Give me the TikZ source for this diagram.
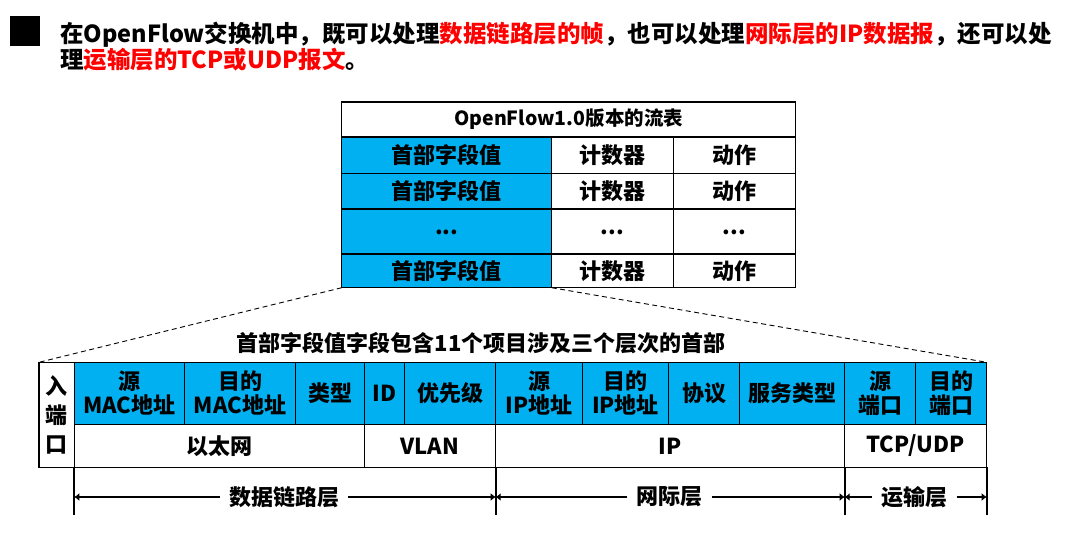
\documentclass[tikz,border=0pt]{standalone}
\usepackage{fontspec}
\setmainfont{Noto Sans CJK SC}
\usetikzlibrary{arrows.meta}
\definecolor{ofblue}{HTML}{00B0F0}
\definecolor{ofred}{HTML}{FF0000}
\newcommand\leadfont{\bfseries\fontsize{23.5}{24.5}\selectfont}
\newcommand\tabfont{\bfseries\fontsize{22}{24}\selectfont}
% a rectangular table cell spanning (x1,y1)-(x2,y2)
\newcommand\mkcell[7]{%
  \node[cell,#6,minimum width={(#4)-(#2)},minimum height={(#5)-(#3)}]
    (#1) at ({((#2)+(#4))/2},{((#3)+(#5))/2}) {#7};}
\tikzset{
  cell/.style={draw=black, line width=1.1pt, inner sep=0pt, outer sep=0pt,
    align=center, font=\tabfont},
  hdr/.style={fill=ofblue},
  plain/.style={fill=white},
  zoomline/.style={line width=0.9pt, dash pattern=on 5pt off 3.5pt},
  vline/.style={line width=2pt},
  span/.style={line width=2.8pt, -{Latex[length=5pt,width=8pt]}},
  layer/.style={font=\tabfont, inner xsep=9pt, inner ysep=0pt},
}
\begin{document}
\begin{tikzpicture}[x=1pt,y=-1pt]
\useasboundingbox[fill=white] (0,0) rectangle (1070,536);

% bullet and lead sentence
\node[fill=black, minimum size=30pt, inner sep=0pt] (bullet) at (25,31) {};
\node[anchor=north west, inner sep=0pt, align=left, font=\leadfont] (lead) at (60,21.5)
  {在OpenFlow交换机中，既可以处理\textcolor{ofred}{数据链路层的帧}，也可以处理\textcolor{ofred}{网际层的IP数据报}，还可以处\\
   理\textcolor{ofred}{运输层的TCP或UDP报文}。};

% flow table of OpenFlow 1.0
\mkcell{ftitle}{341.7}{102}{795.7}{137}{plain,font=\bfseries\fontsize{19.5}{22}\selectfont}{OpenFlow1.0版本的流表}
\mkcell{h1}{341.7}{137}{551.7}{173.3}{hdr}{首部字段值}
\mkcell{c1}{551.7}{137}{673.3}{173.3}{plain}{计数器}
\mkcell{a1}{673.3}{137}{795.7}{173.3}{plain}{动作}
\mkcell{h2}{341.7}{173.3}{551.7}{209}{hdr}{首部字段值}
\mkcell{c2}{551.7}{173.3}{673.3}{209}{plain}{计数器}
\mkcell{a2}{673.3}{173.3}{795.7}{209}{plain}{动作}
\mkcell{h3}{341.7}{209}{551.7}{254}{hdr}{\raisebox{-6pt}{...}}
\mkcell{c3}{551.7}{209}{673.3}{254}{plain}{\raisebox{-6pt}{...}}
\mkcell{a3}{673.3}{209}{795.7}{254}{plain}{\raisebox{-6pt}{...}}
\mkcell{h4}{341.7}{254}{551.7}{287.7}{hdr}{首部字段值}
\mkcell{c4}{551.7}{254}{673.3}{287.7}{plain}{计数器}
\mkcell{a4}{673.3}{254}{795.7}{287.7}{plain}{动作}

% header fields
\node[font=\tabfont] (ftitle2) at (481,343) {首部字段值字段包含11个项目涉及三个层次的首部};
\mkcell{port}{39}{362.3}{74.3}{467.3}{plain,font=\bfseries\fontsize{22}{29}\selectfont}{入\\端\\口}
\mkcell{smac}{74.3}{362.3}{184.3}{424.3}{hdr}{源\\MAC地址}
\mkcell{dmac}{184.3}{362.3}{295.7}{424.3}{hdr}{目的\\MAC地址}
\mkcell{etype}{295.7}{362.3}{364.3}{424.3}{hdr}{类型}
\mkcell{vid}{364.3}{362.3}{404.3}{424.3}{hdr}{ID}
\mkcell{vpri}{404.3}{362.3}{495.7}{424.3}{hdr}{优先级}
\mkcell{sip}{495.7}{362.3}{582.3}{424.3}{hdr}{源\\IP地址}
\mkcell{dip}{582.3}{362.3}{668.7}{424.3}{hdr}{目的\\IP地址}
\mkcell{proto}{668.7}{362.3}{739.7}{424.3}{hdr}{协议}
\mkcell{tos}{739.7}{362.3}{844.7}{424.3}{hdr}{服务类型}
\mkcell{sport}{844.7}{362.3}{915.3}{424.3}{hdr}{源\\端口}
\mkcell{dport}{915.3}{362.3}{986.7}{424.3}{hdr}{目的\\端口}
\mkcell{eth}{74.3}{424.3}{364.3}{467.3}{plain}{以太网}
\mkcell{vlan}{364.3}{424.3}{495.7}{467.3}{plain}{VLAN}
\mkcell{ip}{495.7}{424.3}{844.7}{467.3}{plain}{IP}
\mkcell{tcp}{844.7}{424.3}{986.7}{467.3}{plain}{TCP/UDP}

% zoom-in guide lines
\draw[zoomline] (h4.south west) -- (port.north west);
\draw[zoomline] (h4.south east) -- (dport.north east);

% layer extents
\draw[vline] (eth.south west) -- ++(0,48);
\draw[vline] (vlan.south east) -- ++(0,48);
\draw[vline] (ip.south east) -- ++(0,48);
\draw[vline] (tcp.south east) -- ++(0,48);
\node[layer] (dll) at (284,497) {数据链路层};
\node[layer] (net) at (669.5,497) {网际层};
\node[layer] (trn) at (914.5,497) {运输层};
\draw[span] (dll.west) -- (eth.south west |- dll.west);
\draw[span] (dll.east) -- (vlan.south east |- dll.east);
\draw[span] (net.west) -- (vlan.south east |- net.west);
\draw[span] (net.east) -- (ip.south east |- net.east);
\draw[span] (trn.west) -- (ip.south east |- trn.west);
\draw[span] (trn.east) -- (tcp.south east |- trn.east);
\end{tikzpicture}
\end{document}
